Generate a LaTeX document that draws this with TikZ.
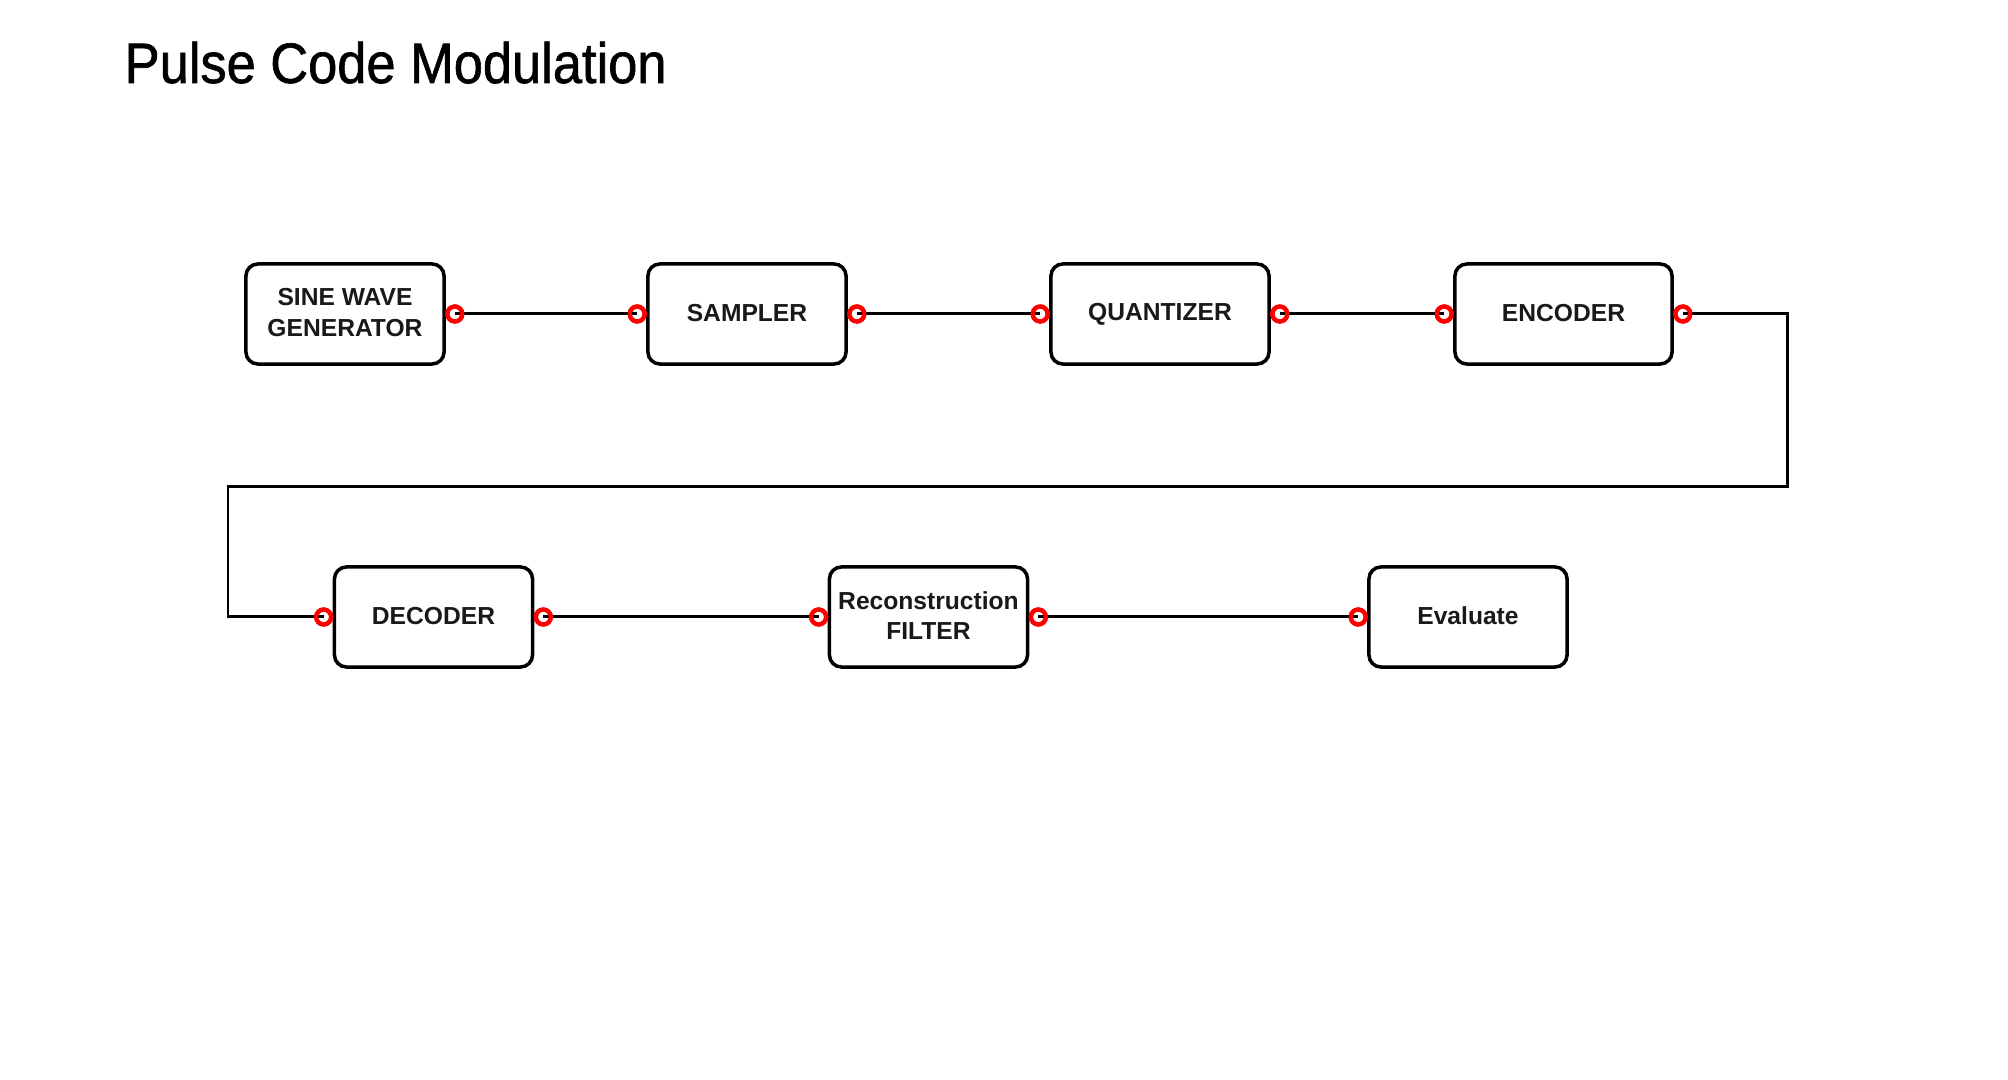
\documentclass[tikz,border=0pt]{standalone}
\usepackage{fontspec}
\setmainfont{Liberation Sans}
\newfontfamily\titlefont[FakeStretch=0.92,FakeBold=1.1]{Liberation Sans}
\newcommand\upt[1]{\raisebox{0.8pt}{#1}}
\begin{document}
\begin{tikzpicture}[x=0.01cm,y=-0.01cm,
  block/.style={draw=black, line width=1pt, rounded corners=0.12cm, fill=white,
    minimum width=1.98cm, minimum height=1.0cm, inner sep=0pt, align=center,
    font=\bfseries\fontsize{7}{8.8}\selectfont, text=black!90},
  port/.style={circle, draw=red, line width=1.2pt, minimum size=0.15cm, inner sep=0pt},
  wire/.style={draw=black, line width=0.85pt}]
\path[fill=white, use as bounding box] (0,0) rectangle (2008,1080);
\node[anchor=base west, inner sep=0pt, font=\titlefont\fontsize{16.2}{19}\selectfont] (title) at (124,83) {Pulse Code Modulation};
% top row
\node[block] (sine) at (345,314) {\upt{SINE WAVE}\\\upt{GENERATOR}};
\node[block] (samp) at (747,314) {\upt{SAMPLER}};
\node[block, minimum width=2.18cm] (quan) at (1160,314) {\upt{QUANTIZER}};
\node[block, minimum width=2.17cm] (enc) at (1563.5,314) {\upt{ENCODER}};
% bottom row
\node[block] (dec) at (433.5,617) {\upt{DECODER}};
\node[block] (rec) at (928.5,617) {\upt{Reconstruction}\\\upt{FILTER}};
\node[block] (eval) at (1468,617) {\upt{Evaluate}};
% ports
\node[port] (sineo) at ([xshift=0.09cm]sine.east) {};
\node[port] (sampi) at ([xshift=-0.09cm]samp.west) {};
\node[port] (sampo) at ([xshift=0.09cm]samp.east) {};
\node[port] (quani) at ([xshift=-0.09cm]quan.west) {};
\node[port] (quano) at ([xshift=0.09cm]quan.east) {};
\node[port] (enci) at ([xshift=-0.09cm]enc.west) {};
\node[port] (enco) at ([xshift=0.09cm]enc.east) {};
\node[port] (deci) at ([xshift=-0.09cm]dec.west) {};
\node[port] (deco) at ([xshift=0.09cm]dec.east) {};
\node[port] (reci) at ([xshift=-0.09cm]rec.west) {};
\node[port] (reco) at ([xshift=0.09cm]rec.east) {};
\node[port] (evali) at ([xshift=-0.09cm]eval.west) {};
% wires
\path[wire] (sineo.center) -- (sampi.center);
\path[wire] (sampo.center) -- (quani.center);
\path[wire] (quano.center) -- (enci.center);
\coordinate (t1) at (1787,487);
\coordinate (t2) at (228,487);
\path[wire] (enco.center) -| (t1) -- (t2) |- (deci.center);
\path[wire] (deco.center) -- (reci.center);
\path[wire] (reco.center) -- (evali.center);
% redraw ports on top of the wires
\foreach \p in {sineo,sampi,sampo,quani,quano,enci,enco,deci,deco,reci,reco,evali}
  \draw[red, line width=1.2pt] (\p.center) circle (0.075cm);
\end{tikzpicture}
\end{document}
